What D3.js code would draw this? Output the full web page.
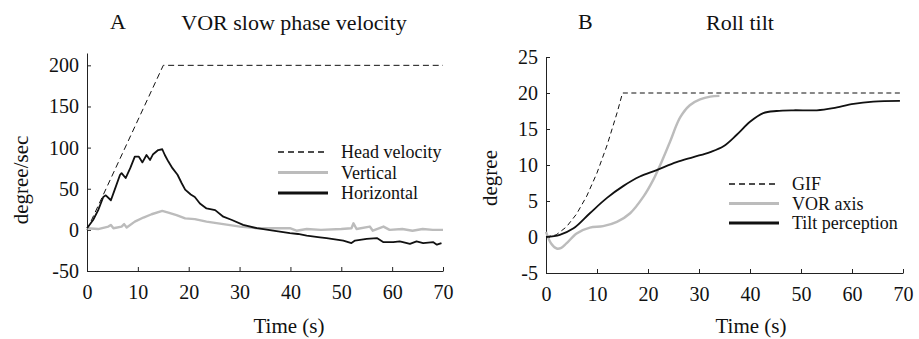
<!DOCTYPE html>
<html>
<head>
<meta charset="utf-8">
<script src="https://cdn.jsdelivr.net/npm/d3@7"></script>
<style>
  body { margin: 0; background: #fff; }
  svg text { font-family: "Liberation Serif", "Times New Roman", serif; fill: #111; }
</style>
</head>
<body>
<div id="chart"></div>
<script>
// ---- data ----
// panel A: VOR slow phase velocity (deg/s) vs time (s)
var headVelocity = [[0, 0], [15, 200], [70, 200]];
var horizontal = [
  [0, 2], [1.2, 12], [2.2, 24], [3.2, 40], [3.7, 42], [4.7, 36], [5.4, 48], [6.5, 67],
  [6.8, 69], [7.6, 63], [8.5, 75], [9.4, 89], [10.2, 89], [10.9, 82], [11.7, 91],
  [12.4, 85], [13, 92], [14, 97], [14.8, 98], [15.3, 91], [16, 83], [16.8, 75],
  [17.8, 67], [18.6, 57], [19.3, 49], [20.4, 43], [21.2, 40], [22.2, 32], [23.5, 26],
  [25.2, 24], [26.8, 16], [28.5, 12], [30.7, 6], [33.4, 2], [36.6, -1], [39.9, -4],
  [41.5, -5], [43.2, -7], [45.8, -9], [47.1, -10], [50.4, -13], [52, -16], [52.7, -13],
  [55, -11], [57, -10], [58.3, -15], [60.2, -15], [61.5, -14], [63.5, -17], [64.8, -14],
  [66.1, -16], [68.1, -15], [68.8, -18], [69.7, -16]
];
var vertical = [
  [0, 2], [2.2, 1], [4.2, 4], [4.7, 6], [5.2, 2], [6.8, 4], [7.3, 7], [7.8, 3], [9.4, 10],
  [11.1, 15], [12.7, 19], [14.8, 23], [16, 21], [17.6, 18], [19.3, 14], [21.2, 13],
  [23.5, 10], [26.8, 7], [30.1, 4], [33.4, 2], [36.6, 2], [39.9, 2], [41.2, -1], [43.2, 1],
  [46, 0], [50, 1], [52, 2], [52.4, 8], [53, 1], [55.6, 4], [56.2, -1], [58.3, 4], [59.5, 0],
  [62, 1], [64, -1], [66, 1], [68, 0], [70, 0]
];
// panel B: roll tilt (deg) vs time (s)
var gif = [[0, 0], [2, 0.3], [4, 1.4], [6, 3.2], [8, 5.7], [10, 8.9], [12, 12.8], [14, 17.4], [15, 20], [70, 20]];
var vorAxis = [
  [0, 0.7], [1, -0.9], [2.1, -1.6], [3, -1.5], [4, -0.9], [6, 0.5], [8.6, 1.3], [11.2, 1.5],
  [13.9, 2.1], [16.5, 3.3], [19.1, 5.6], [21, 7.9], [22.7, 10.5], [24.3, 13.2], [26.3, 16.6],
  [28.2, 18.3], [30.2, 19.1], [32.2, 19.5], [34, 19.6]
];
var tiltPerception = [
  [0, 0], [2.7, 0.3], [5.4, 1.2], [8.6, 3.3], [11.9, 5.4], [15.2, 7.1], [18.4, 8.4],
  [21.7, 9.3], [25.6, 10.4], [28.9, 11.1], [32.2, 11.8], [34.8, 12.6], [37.4, 14.2],
  [40, 16], [42.6, 17.2], [45.2, 17.5], [48.5, 17.6], [53.1, 17.6], [56.3, 17.9],
  [60.3, 18.5], [64.2, 18.8], [69.4, 18.9]
];
var xTicks = [0, 10, 20, 30, 40, 50, 60, 70];
var yTicksA = [-50, 0, 50, 100, 150, 200];
var yTicksB = [-5, 0, 5, 10, 15, 20, 25];

var gray = "#bcbcbc";

var svg = d3.select("#chart")
  .append("svg")
  .attr("width", 919)
  .attr("height", 339);

//plain hyphen for negatives, like the original
var plain = function(d) { return String(d); };

//draws one panel
var drawPanel = function(opt) {
  var x = d3.scaleLinear().domain([0, 70]).range([opt.left, opt.right]);
  var y = d3.scaleLinear().domain(opt.yDomain).range([opt.bottom, opt.top]);

  var g = svg.append("g");

  //x axis, ticks pointing inward
  g.append("g")
    .attr("transform", "translate(0," + opt.bottom + ")")
    .call(d3.axisBottom(x).tickValues(xTicks).tickFormat(plain)
      .tickSizeInner(-4).tickSizeOuter(0).tickPadding(13.5));

  //y axis
  g.append("g")
    .attr("transform", "translate(" + opt.left + ",0)")
    .call(d3.axisLeft(y).tickValues(opt.yTicks).tickFormat(plain)
      .tickSizeInner(-4).tickSizeOuter(0).tickPadding(8));

  g.selectAll(".domain, .tick line").attr("stroke", "#222");
  g.selectAll("g").attr("font-family", null).attr("font-size", null);
  g.selectAll(".tick text").style("font-size", "20px").attr("fill", "#111");

  var line = d3.line()
    .x(function(d) { return x(d[0]); })
    .y(function(d) { return y(d[1]); });

  opt.series.forEach(function(s) {
    g.append("path")
      .datum(s.data)
      .attr("fill", "none")
      .attr("stroke", s.color)
      .attr("stroke-width", s.width)
      .attr("stroke-dasharray", s.dash || null)
      .attr("stroke-linejoin", "round")
      .attr("d", line.curve(s.curve || opt.curve));
  });

  //legend
  opt.series.forEach(function(s, i) {
    var ly = opt.legendY + i * opt.legendStep;
    g.append("line")
      .attr("x1", opt.legendX).attr("x2", opt.legendX + 50)
      .attr("y1", ly).attr("y2", ly)
      .attr("stroke", s.color)
      .attr("stroke-width", s.dash ? 1.3 : 3.2)
      .attr("stroke-dasharray", s.dash ? "6,4" : null);
    g.append("text")
      .attr("x", opt.legendX + 63)
      .attr("y", ly + 6)
      .style("font-size", "18px")
      .text(s.name);
  });

  //titles and labels
  g.append("text")
    .attr("x", opt.letterX).attr("y", 29)
    .style("font-size", "22px")
    .text(opt.letter);
  g.append("text")
    .attr("x", opt.titleX).attr("y", 30)
    .attr("text-anchor", "middle")
    .style("font-size", "22px")
    .text(opt.title);
  g.append("text")
    .attr("x", opt.xLabelX).attr("y", 333)
    .attr("text-anchor", "middle")
    .style("font-size", "21px")
    .text("Time (s)");
  g.append("text")
    .attr("transform", "translate(" + opt.yLabelX + "," + opt.yLabelY + ") rotate(-90)")
    .attr("text-anchor", "middle")
    .style("font-size", "21px")
    .text(opt.yLabel);
};

drawPanel({
  left: 87, right: 443, top: 53, bottom: 271,
  yDomain: [-50, 215], yTicks: yTicksA,
  curve: d3.curveLinear,
  series: [
    { name: "Head velocity", data: headVelocity, color: "#111", width: 1, dash: "6,3.8" },
    { name: "Vertical", data: vertical, color: gray, width: 2.4 },
    { name: "Horizontal", data: horizontal, color: "#111", width: 1.8 }
  ],
  legendX: 278, legendY: 152, legendStep: 20.5,
  letter: "A", letterX: 110,
  title: "VOR slow phase velocity", titleX: 294,
  xLabelX: 289,
  yLabel: "degree/sec", yLabelX: 28, yLabelY: 180
});

drawPanel({
  left: 546, right: 903, top: 57, bottom: 273,
  yDomain: [-5, 25], yTicks: yTicksB,
  curve: d3.curveCatmullRom,
  series: [
    { name: "GIF", data: gif, color: "#111", width: 1, dash: "5,3.5", curve: d3.curveLinear },
    { name: "VOR axis", data: vorAxis, color: gray, width: 2.4 },
    { name: "Tilt perception", data: tiltPerception, color: "#111", width: 1.8 }
  ],
  legendX: 729, legendY: 184, legendStep: 19.5,
  letter: "B", letterX: 578,
  title: "Roll tilt", titleX: 740,
  xLabelX: 751,
  yLabel: "degree", yLabelX: 497, yLabelY: 178
});
</script>
</body>
</html>
